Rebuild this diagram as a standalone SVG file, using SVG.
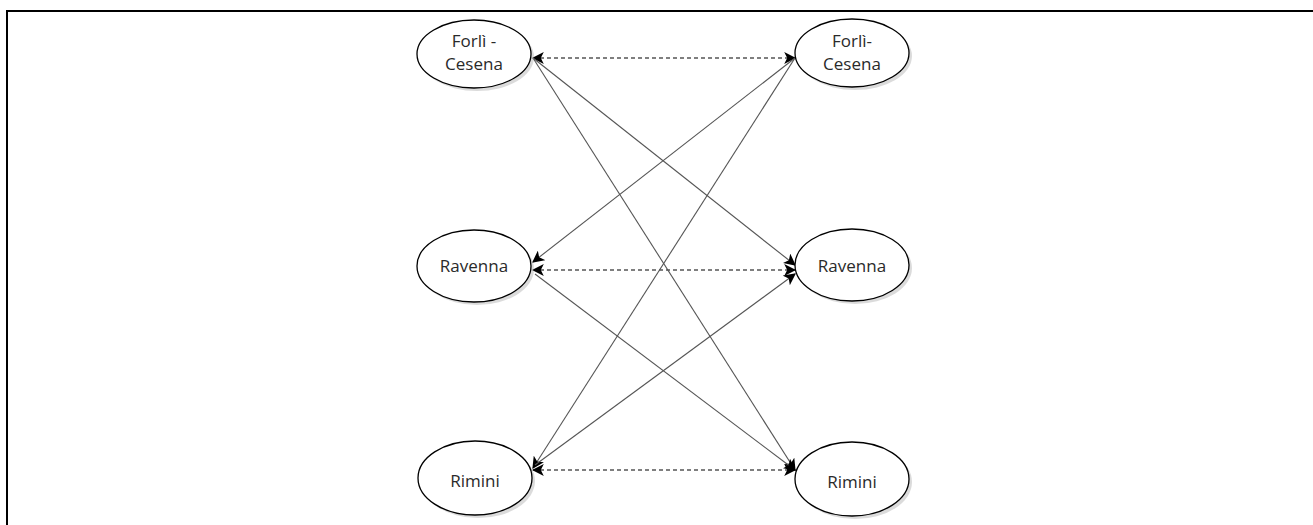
<svg xmlns="http://www.w3.org/2000/svg" width="1313" height="525" viewBox="0 0 1313 525">
<style>
.node ellipse.shape{fill:#fff;stroke:#000;stroke-width:1.3}
.node ellipse.shadow{fill:#999;opacity:0.35}
.node text{font-family:"Open Sans","Liberation Sans",sans-serif;font-size:17px;fill:#2a2a2a;text-anchor:middle}
.edge{stroke:#555;stroke-width:1.1;fill:none}
.dash{stroke:#000;stroke-dasharray:4 3}
</style>
<defs>
<marker id="arr" viewBox="0 0 10 10" refX="9" refY="5" markerWidth="12" markerHeight="12" markerUnits="userSpaceOnUse" orient="auto-start-reverse">
<path d="M0,0 L10,5 L0,10 L2.5,5 Z" fill="#000"/>
</marker>
</defs>
<rect x="7" y="11" width="1330" height="540" fill="none" stroke="#000" stroke-width="2"/>
<g id="connectors">
<line class="edge dash" x1="533" y1="58" x2="795" y2="58" marker-start="url(#arr)" marker-end="url(#arr)"/>
<line class="edge dash" x1="533" y1="270" x2="795" y2="270" marker-start="url(#arr)" marker-end="url(#arr)"/>
<line class="edge dash" x1="533" y1="470" x2="795" y2="470" marker-start="url(#arr)" marker-end="url(#arr)"/>
<line class="edge" x1="533" y1="58" x2="795" y2="265" marker-end="url(#arr)"/>
<line class="edge" x1="533" y1="58" x2="795" y2="470" marker-end="url(#arr)"/>
<line class="edge" x1="795" y1="58" x2="533" y2="262" marker-end="url(#arr)"/>
<line class="edge" x1="795" y1="58" x2="533" y2="468" marker-end="url(#arr)"/>
<line class="edge" x1="535" y1="274" x2="795" y2="470" marker-end="url(#arr)"/>
<line class="edge" x1="535" y1="465" x2="795" y2="274" marker-end="url(#arr)"/>
</g>
<g id="forli-left" class="node">
<ellipse class="shadow" cx="477" cy="57" rx="57" ry="34"/>
<ellipse class="shape" cx="474" cy="54" rx="57" ry="34"/>
<text x="474" y="47">Forlì -</text>
<text x="474" y="70">Cesena</text>
</g>
<g id="forli-right" class="node">
<ellipse class="shadow" cx="855" cy="56" rx="57" ry="34"/>
<ellipse class="shape" cx="852" cy="53" rx="57" ry="34"/>
<text x="852" y="47">Forlì-</text>
<text x="852" y="70">Cesena</text>
</g>
<g id="ravenna-left" class="node">
<ellipse class="shadow" cx="477" cy="269" rx="57" ry="36"/>
<ellipse class="shape" cx="474" cy="266" rx="57" ry="36"/>
<text x="474" y="272">Ravenna</text>
</g>
<g id="ravenna-right" class="node">
<ellipse class="shadow" cx="855" cy="268" rx="57" ry="36"/>
<ellipse class="shape" cx="852" cy="265" rx="57" ry="36"/>
<text x="852" y="272">Ravenna</text>
</g>
<g id="rimini-left" class="node">
<ellipse class="shadow" cx="478" cy="481" rx="57" ry="37"/>
<ellipse class="shape" cx="475" cy="478" rx="57" ry="37"/>
<text x="475" y="487">Rimini</text>
</g>
<g id="rimini-right" class="node">
<ellipse class="shadow" cx="855" cy="482" rx="57" ry="37"/>
<ellipse class="shape" cx="852" cy="479" rx="57" ry="37"/>
<text x="852" y="488">Rimini</text>
</g>
</svg>
